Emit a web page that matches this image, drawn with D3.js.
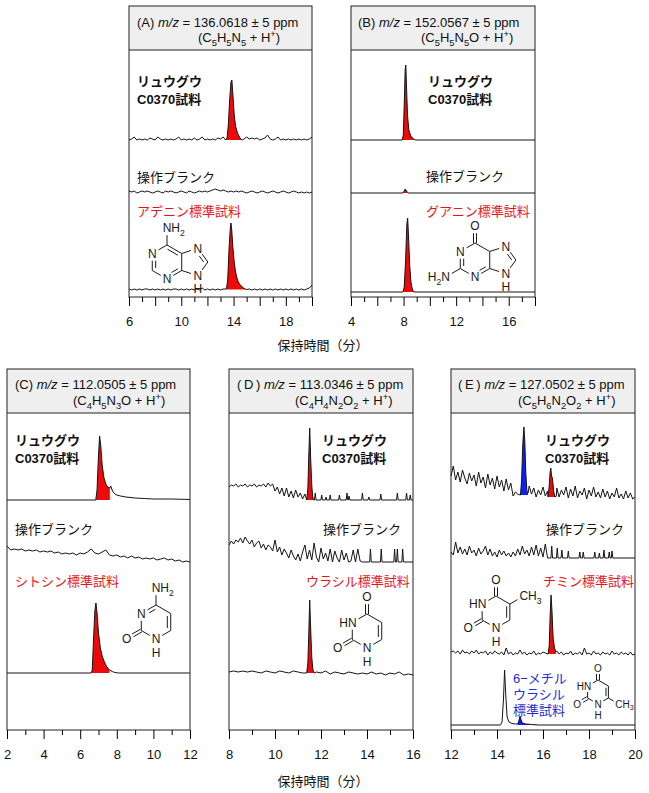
<!DOCTYPE html>
<html><head><meta charset="utf-8">
<script src="https://cdn.jsdelivr.net/npm/d3@7"></script>
<style>body{margin:0;background:#fff}svg{display:block}</style>
</head><body>
<svg id="c" width="649" height="793"></svg>
<script>
// ================= DATA =================
const panelIds = ['A','B','C','D','E'];
const panelTags = ['(A)','(B)','(C)','(\u2009D\u2009)','(\u2009E\u2009)'];
const mzValues = ['136.0618','152.0567','112.0505','113.0346','127.0502'];
const formulas = ['(C5H5N5 + H+)','(C5H5N5O + H+)','(C4H5N3O + H+)','(C4H4N2O2 + H+)','(C5H6N2O2 + H+)'];
const xDomains = [[6,20],[4,18],[2,12],[8,16],[12,20]];
const tickLabels = [[6,10,14,18],[4,8,12,16],[2,4,6,8,10,12],[8,10,12,14,16],[12,14,16,18,20]];
const sampleName = ['リュウグウ','C0370試料'];
const blankName = '操作ブランク';
const stdNames = ['アデニン標準試料','グアニン標準試料','シトシン標準試料','ウラシル標準試料','チミン標準試料'];
const mu6Name = ['6\u2212メチル','ウラシル','標準試料'];
const axisTitle = '保持時間（分）';

// Panel A (m/z 136.0618) – relative intensities, baseline noise on 0.2-min grid
const sampleA = {t0:6, dt:0.2, v:[0,1,3,0,1,0,1,0,2,1, 0,3,1,0,1,0,1,0,1,3, 0,1,0,1,0,2,0,1,3,0, 1,0,1,0,2,1,3,
  null,null,null,null,null,null,null,
  1,3,1,2,1,2,0,1,2,5, 1,0,1,3,0,1,0,1,0,1, 0,1,0,1,0,1,3]};
const peakSampleA = [[13.4,0],[13.5,2],[13.6,15],[13.7,40],[13.8,58],[13.87,60],[13.95,45],[14.05,25],[14.15,14],[14.3,7],[14.45,3],[14.55,1],[14.65,0]];
const blankA = {t0:6, dt:0.2, v:[2,1,2,0,1,2,1,2,1,0, 1,2,1,0,2,1,2,1,0,1, 2,1,0,2,1,0,1,2,1,2, 1,2,3,4,3,2,3,2,1,2, 1,2,1,2,1,0,1,2,1,0, 1,2,1,0,1,2,1,0,1,2, 1,0,1,2,1,0,1,0,1,0,1]};
const stdA = {t0:6, dt:0.2, v:[1,0,1,0,1,0,1,1,0,1, 0,1,0,1,0,1,0,1,1,0, 1,0,1,0,1,0,1,0,2,0, 1,0,1,0,1,0,1,
  null,null,null,null,null,null,null,null,null,
  1,0,1,0,1,0,1,0,1,0, 1,0,1,0,1,0,1,0,1,0, 1,0,1,2,5]};
const peakStdA = [[13.45,1],[13.55,10],[13.65,40],[13.75,62],[13.8,67],[13.86,60],[13.95,42],[14.05,28],[14.15,18],[14.3,10],[14.45,6],[14.6,4],[14.75,2],[14.9,1],[15.0,0.5]];

// Panel B (m/z 152.0567)
const flatB = {t0:4, dt:14, v:[0,0]};
const peakSampleB = [[7.9,0],[7.98,5],[8.05,35],[8.12,70],[8.17,75],[8.22,55],[8.3,25],[8.4,10],[8.55,4],[8.75,1],[8.9,0]];
const peakBlankB = [[7.95,0],[8.05,2],[8.13,4],[8.22,2],[8.35,0]];
const peakStdB = [[7.95,0],[8.05,5],[8.15,30],[8.25,68],[8.31,74],[8.38,55],[8.46,28],[8.56,10],[8.66,3],[8.78,0]];

// Panel C (m/z 112.0505)
const flatC = {t0:2, dt:10, v:[0,0]};
const peakSampleC = [[6.85,0],[6.92,10],[7.0,45],[7.06,64],[7.12,55],[7.2,35],[7.3,22],[7.4,16],[7.5,13],[7.62,12],[7.67,14],[7.72,11],[7.8,8],[7.9,6],[8.0,5],[8.2,4],[8.5,3],[9.0,2],[9.5,1.5],[10,1],[11,1],[12,0.5]];
const cutSampleC = 7.62;
const blankC = {t0:2, dt:0.2, v:[16,12,13,12,13,11,12,11,12,10, 11,10,11,9,10,8,9,8,9,7, 9,8,10,13,9,8,10,12,7,6, 7,5,6,4,6,4,5,3,4,3, 4,2,3,4,2,3,1,2,0,1, 0]};
const peakStdC = [[6.6,0],[6.66,3],[6.72,30],[6.8,62],[6.86,70],[6.92,60],[7.0,40],[7.1,25],[7.2,17],[7.3,12],[7.4,8],[7.5,5],[7.6,3],[7.75,1.5],[7.9,0.5],[8.1,0]];
const cutStdC = 7.6;

// Panel D (m/z 113.0346)
const sampleD = {t0:8, dt:0.1, v:[13,15,14,16,13,15,14,16,13,15, 14,16,13,15,14,16,13,17,14,16, 9,13,6,12,4,12,3,9,2,10, 3,7,1,6]};
const peakSampleD = [[11.38,0],[11.43,12],[11.47,45],[11.51,72],[11.55,42],[11.6,14],[11.64,3],[11.68,0]];
const spikesSampleD = [[11.75,7],[12.03,5],[12.22,3],[12.4,5],[12.8,5],[13.13,7],[13.22,4],[13.8,7],[14.08,3],[14.6,6],[15.32,7],[15.72,7],[15.88,5]];
const blankD = {t0:8, dt:0.1, v:[17,21,18,22,20,24,19,25,21,18, 22,15,19,21,14,18,12,17,15,11, 22,10,15,7,13,9,4,12,6,2, 8,1,10,17,3,12,2,19,5,0, 14,3,9,1,13,0,11,4,0,12, 2,9,0,1,12,0,13,1,0]};
const spikesBlankD = [[14.15,13],[14.62,13],[15.2,13],[15.32,13],[15.55,13]];
const endD = [[16,0]];
const stdD = {t0:8, dt:0.2, v:[3,4,3,4,3,4,3,2,4,3, 2,4,3,2,4,3,2, null,null, 3,2,4,1,3,2,1,3,2,1, 2,1,3,1,2,0,2,1,3,0, 1,0]};
const peakStdD = [[11.38,2],[11.43,12],[11.47,42],[11.51,75],[11.55,47],[11.6,17],[11.65,5],[11.7,2]];

// Panel E (m/z 127.0502)
const sampleE = {t0:12, dt:0.1, v:[24,34,20,28,18,30,22,16,27,19, 25,14,28,17,23,12,26,15,22,11, 24,13,20,9,21,10,17,4,8,6, 5, null,null,null, 14,6,12,3,10,5,13,4,9, null,null,null,
  12,3,10,5,13,2,11,4,14,2, 9,5,12,1,10,4,13,3,8,2, 11,3,9,1,7,3,12,2,6,1, 9,2,7,1,3]};
const peakSampleE15 = [[15.02,5],[15.07,20],[15.12,55],[15.17,73],[15.21,58],[15.25,28],[15.3,9],[15.35,7]];
const peakSampleE16 = [[16.22,3],[16.27,14],[16.31,28],[16.34,32],[16.37,24],[16.41,22],[16.46,9],[16.52,3],[16.58,4]];
const blankE = {t0:12, dt:0.1, v:[6,3,16,5,11,4,9,3,12,5, 8,2,10,4,7,12,3,9,2,6, 1,8,3,7,2,5,1,6,2,9, 3,12,4,8,2,11,3,13,2,10, 1,14,0]};
const spikesBlankE = [[16.38,12],[16.62,10],[16.82,8],[17.1,7],[17.6,6],[17.75,6],[18.25,6],[18.45,5],[18.65,8],[18.88,6],[19.0,7]];
const endE = [[20,0]];
const stdE = {t0:12, dt:0.1, v:[4,5,3,5,2,6,3,4,2,5, 3,6,2,4,3,5,1,4,2,5, 3,2,4,1,8,2,4,1,3,2, 6,2,4,1,3,2,5,1,3,2, 4,3,2, null,null,null,
  5,2,4,1,3,2,5,1,3,2, 4,1,8,2,3,1,5,2,3,1, 4,2,3,1,5,2,3,1,4,2, 3,1,4,1,2]};
const peakStdE = [[16.22,2],[16.27,10],[16.31,40],[16.35,61],[16.39,45],[16.44,18],[16.5,8],[16.56,4]];
const flatE = {t0:12, dt:8, v:[0,0]};
const peakMu6Main = [[14.15,0],[14.22,3],[14.28,25],[14.33,55],[14.38,30],[14.44,8],[14.52,3],[14.65,1.5],[14.8,1]];
const peakMu6Blue = [[14.9,1],[14.95,4],[15.0,9],[15.05,5],[15.1,2],[15.25,1],[15.5,0.5],[15.8,0]];

// ================= STYLE / LAYOUT =================
const RED = '#ee0a0a', RED_TXT = '#e8141c', BLUE = '#0a1eff', BLUE_TXT = '#2230d0';
const FONT = '"Liberation Sans", Arial, "Noto Sans CJK JP", sans-serif';
const SPW = 0.035;

const rowsByPanel = {
  A: [{grid: sampleA, peaks: [{pts: peakSampleA, fill: RED}]},
      {grid: blankA},
      {grid: stdA, peaks: [{pts: peakStdA, fill: RED}]}],
  B: [{grid: flatB, peaks: [{pts: peakSampleB, fill: RED}]},
      {grid: flatB, peaks: [{pts: peakBlankB, fill: RED}]},
      {grid: flatB, peaks: [{pts: peakStdB, fill: RED}]}],
  C: [{grid: flatC, peaks: [{pts: peakSampleC, fill: RED, cut: cutSampleC}]},
      {grid: blankC},
      {grid: flatC, peaks: [{pts: peakStdC, fill: RED, cut: cutStdC}]}],
  D: [{grid: sampleD, peaks: [{pts: peakSampleD, fill: RED}], spikes: spikesSampleD, extra: endD},
      {grid: blankD, spikes: spikesBlankD, extra: endD},
      {grid: stdD, peaks: [{pts: peakStdD, fill: RED}]}],
  E: [{grid: sampleE, peaks: [{pts: peakSampleE15, fill: BLUE}, {pts: peakSampleE16, fill: RED}]},
      {grid: blankE, spikes: spikesBlankE, extra: endE},
      {grid: stdE, peaks: [{pts: peakStdE, fill: RED}]},
      {grid: flatE, peaks: [{pts: peakMu6Main}, {pts: peakMu6Blue, fill: BLUE}]}]
};

const layout = {
  A: {x0:129, x1:312, y0:6, yh:50, y1:297, h1:[137,27], h2:[198,42], rows:[140,193,290], lab:[[137,86],[137,182],[137,216]], mol:[167,262,17,12]},
  B: {x0:351, x1:535, y0:6, yh:50, y1:297, h1:[358,27], h2:[421,42], rows:[140,193,292], lab:[[428,86],[426,181],[426,216]], mol:[475,260,17,12]},
  C: {x0:7, x1:190, y0:369, yh:413, y1:730, h1:[15,389], h2:[73,405], rows:[500,562,673], lab:[[15,445],[15,534],[15,586]], mol:[156,622,17,12]},
  D: {x0:229, x1:413, y0:369, yh:413, y1:730, h1:[237,389], h2:[295,405], rows:[500,562,675], lab:[[322,445],[323,534],[306,586]], mol:[367,631,17,12]},
  E: {x0:451, x1:635, y0:369, yh:413, y1:730, h1:[458,389], h2:[518,405], rows:[500,558,656,725], lab:[[545,445],[546,534],[543,586]], mol:[496,612,16,12]}
};
const mu6Layout = {lab:[513,683], dy:16, mol:[598,692,12,10]};

// ================= MOLECULES =================
const HC = [0,0], PC = [1.554,0];
const ringAtoms = () => [{p:[0,-1]},{p:[-0.866,-0.5]},{p:[-0.866,0.5]},{p:[0,1]},{p:[0.866,0.5]},{p:[0.866,-0.5]}];
function withLabels(atoms, labels){ labels.forEach((l,i)=>{ if(l) Object.assign(atoms[i], l); }); return atoms; }
const adenine = {atoms: withLabels(ringAtoms(), [null,{l:'N'},null,{l:'N'},null,null]).concat([
    {p:[1.817,-0.809], l:'N'}, {p:[2.405,0]}, {p:[1.817,0.809], l:'N', h:true}, {p:[0,-2], l:'NH2', a:'first'}]),
  bonds: [[0,1,1],[1,2,2,HC],[2,3,1],[3,4,2,HC],[4,5,1],[5,0,2,HC],[5,6,1],[6,7,2,PC],[7,8,1],[8,4,1],[0,9,1]]};
const guanine = {atoms: withLabels(ringAtoms(), [null,{l:'N'},null,{l:'N'},null,null]).concat([
    {p:[1.817,-0.809], l:'N'}, {p:[2.405,0]}, {p:[1.817,0.809], l:'N', h:true}, {p:[0,-2], l:'O'}, {p:[-1.732,1.0], l:'H2N', a:'last'}]),
  bonds: [[0,1,1],[1,2,2,HC],[2,3,1],[3,4,2,HC],[4,5,1],[5,0,1],[5,6,1],[6,7,2,PC],[7,8,1],[8,4,1],[0,9,2],[2,10,1]]};
const cytosine = {atoms: withLabels(ringAtoms(), [null,{l:'N'},null,{l:'N',h:true},null,null]).concat([
    {p:[0,-2], l:'NH2', a:'first'}, {p:[-1.732,1.0], l:'O'}]),
  bonds: [[0,1,2,HC],[1,2,1],[2,3,1],[3,4,1],[4,5,2,HC],[5,0,1],[0,6,1],[2,7,2]]};
const uracilAtoms = () => withLabels(ringAtoms(), [null,{l:'HN',a:'last'},null,{l:'N',h:true},null,null]).concat([
    {p:[0,-2], l:'O'}, {p:[-1.732,1.0], l:'O'}]);
const uracilBonds = [[0,1,1],[1,2,1],[2,3,1],[3,4,1],[4,5,2,HC],[5,0,1],[0,6,2],[2,7,2]];
const uracil = {atoms: uracilAtoms(), bonds: uracilBonds};
const thymine = {atoms: uracilAtoms().concat([{p:[1.732,-1.0], l:'CH3', a:'first'}]), bonds: uracilBonds.concat([[5,8,1]])};
const mu6 = {atoms: uracilAtoms().concat([{p:[1.732,1.0], l:'CH3', a:'first'}]), bonds: uracilBonds.concat([[4,8,1]])};
const molByPanel = {A: adenine, B: guanine, C: cytosine, D: uracil, E: thymine};

// ================= HELPERS =================
const svg = d3.select('#c');

function richText(sel, x, y, segs, fs, color) {
  const t = sel.append('text').attr('x', x).attr('y', y).attr('font-size', fs)
    .attr('font-family', FONT).attr('fill', color || '#111');
  let shift = 0;
  segs.forEach(s => {
    const target = s.sub ? fs*0.28 : s.sup ? -fs*0.38 : 0;
    const sp = t.append('tspan').text(s.t).attr('dy', target - shift);
    if (s.sub || s.sup) sp.attr('font-size', fs*0.72);
    if (s.it) sp.attr('font-style', 'italic');
    shift = target;
  });
  return t;
}
function parseFormula(str) {
  const segs = [];
  for (let i = 0; i < str.length; i++) {
    const c = str[i];
    if (/\d/.test(c)) segs.push({t:c, sub:true});
    else if (c === '+' && str[i+1] === ')') segs.push({t:c, sup:true});
    else if (segs.length && !segs[segs.length-1].sub && !segs[segs.length-1].sup) segs[segs.length-1].t += c;
    else segs.push({t:c});
  }
  return segs;
}
function buildPoints(tr) {
  let pts = [];
  if (tr.grid) tr.grid.v.forEach((v,i) => { if (v !== null) pts.push([tr.grid.t0 + i*tr.grid.dt, v]); });
  (tr.extra || []).forEach(p => pts.push(p));
  const ranges = [];
  (tr.peaks || []).forEach(pk => ranges.push([pk.pts[0][0], pk.pts[pk.pts.length-1][0]]));
  (tr.spikes || []).forEach(([t]) => ranges.push([t-SPW, t+SPW]));
  pts = pts.filter(([t]) => !ranges.some(([a,b]) => t >= a - 1e-9 && t <= b + 1e-9));
  (tr.peaks || []).forEach(pk => pk.pts.forEach(p => pts.push(p)));
  (tr.spikes || []).forEach(([t,h]) => pts.push([t-SPW,0],[t,h],[t+SPW,0]));
  pts.sort((a,b) => a[0]-b[0]);
  return pts;
}
function atomLabel(g, x, y, label, anchor, fs) {
  const segs = label.match(/[A-Z]|\d/g).map(c => /\d/.test(c) ? {t:c, sub:true} : {t:c});
  const hw = fs*0.36;
  let tx = x, ta = 'middle';
  if (anchor === 'first') { tx = x - hw; ta = 'start'; }
  if (anchor === 'last') { tx = x + hw; ta = 'end'; }
  richText(g, tx, y + fs*0.36, segs, fs, '#1a1a1a').attr('text-anchor', ta);
}
function drawMol(g, mol, cx, cy, s, fs) {
  const P = p => [cx + p[0]*s, cy + p[1]*s];
  const seg = (x1,y1,x2,y2) => g.append('line').attr('x1',x1).attr('y1',y1).attr('x2',x2).attr('y2',y2)
    .attr('stroke','#1a1a1a').attr('stroke-width',1);
  mol.bonds.forEach(([i,j,ord,rc]) => {
    const A = mol.atoms[i], B = mol.atoms[j];
    let [x1,y1] = P(A.p), [x2,y2] = P(B.p);
    const L = Math.hypot(x2-x1, y2-y1), ux = (x2-x1)/L, uy = (y2-y1)/L;
    const ta = A.l ? fs*0.6 : 0, tb = B.l ? fs*0.6 : 0;
    x1 += ux*ta; y1 += uy*ta; x2 -= ux*tb; y2 -= uy*tb;
    if (ord === 1) seg(x1,y1,x2,y2);
    else if (rc) {
      seg(x1,y1,x2,y2);
      const [rx,ry] = P(rc), mx = (x1+x2)/2, my = (y1+y2)/2;
      let nx = -uy, ny = ux;
      if ((rx-mx)*nx + (ry-my)*ny < 0) { nx = -nx; ny = -ny; }
      const d = s*0.2, sh = s*0.15;
      seg(x1+nx*d+ux*(A.l?0:sh), y1+ny*d+uy*(A.l?0:sh), x2+nx*d-ux*(B.l?0:sh), y2+ny*d-uy*(B.l?0:sh));
    } else {
      const nx = -uy, ny = ux, d = 1.5;
      seg(x1+nx*d,y1+ny*d,x2+nx*d,y2+ny*d); seg(x1-nx*d,y1-ny*d,x2-nx*d,y2-ny*d);
    }
  });
  mol.atoms.forEach(A => {
    if (!A.l) return;
    const [x,y] = P(A.p);
    atomLabel(g, x, y, A.l, A.a, fs);
    if (A.h) atomLabel(g, x, y + fs*1.1, 'H', null, fs);
  });
}

// ================= DRAW =================
panelIds.forEach((id, pi) => {
  const L = layout[id];
  const g = svg.append('g');
  const x = d3.scaleLinear().domain(xDomains[pi]).range([L.x0, L.x1]);

  // header
  g.append('rect').attr('x', L.x0).attr('y', L.y0).attr('width', L.x1-L.x0).attr('height', L.yh-L.y0).attr('fill', '#efefef');
  g.append('line').attr('x1', L.x0).attr('x2', L.x1).attr('y1', L.yh).attr('y2', L.yh).attr('stroke', '#222');
  richText(g, L.h1[0], L.h1[1], [{t: panelTags[pi] + ' '}, {t: 'm/z', it: true}, {t: ' = ' + mzValues[pi] + ' ± 5 ppm'}], 13);
  richText(g, L.h2[0], L.h2[1], parseFormula(formulas[pi]), 13);

  // traces
  rowsByPanel[id].forEach((row, ri) => {
    const base = L.rows[ri];
    const y = d3.scaleLinear().domain([0, 100]).range([base, base - 100]);
    (row.peaks || []).filter(pk => pk.fill).forEach(pk => {
      const fp = pk.pts.filter(p => pk.cut == null || p[0] <= pk.cut + 1e-9);
      const b = Math.min(fp[0][1], fp[fp.length-1][1]);
      g.append('path').datum(fp)
        .attr('d', d3.area().x(d => x(d[0])).y0(y(b)).y1(d => y(d[1])))
        .attr('fill', pk.fill);
    });
    g.append('path').datum(buildPoints(row))
      .attr('d', d3.line().x(d => x(d[0])).y(d => y(d[1])))
      .attr('fill', 'none').attr('stroke', '#141414').attr('stroke-width', 1).attr('stroke-linejoin', 'round');
  });

  // row labels
  const fsL = 13;
  g.append('text').attr('x', L.lab[0][0]).attr('y', L.lab[0][1]).attr('font-size', fsL).attr('font-weight', 'bold')
    .attr('font-family', FONT).attr('fill', '#111').text(sampleName[0]);
  g.append('text').attr('x', L.lab[0][0]).attr('y', L.lab[0][1] + 18).attr('font-size', fsL).attr('font-weight', 'bold')
    .attr('font-family', FONT).attr('fill', '#111').text(sampleName[1]);
  g.append('text').attr('x', L.lab[1][0]).attr('y', L.lab[1][1]).attr('font-size', fsL)
    .attr('font-family', FONT).attr('fill', '#111').text(blankName);
  g.append('text').attr('x', L.lab[2][0]).attr('y', L.lab[2][1]).attr('font-size', fsL)
    .attr('font-family', FONT).attr('fill', RED_TXT).text(stdNames[pi]);

  // structure
  const [mx, my, ms, mfs] = L.mol;
  drawMol(g, molByPanel[id], mx, my, ms, mfs);

  // panel border
  g.append('rect').attr('x', L.x0).attr('y', L.y0).attr('width', L.x1-L.x0).attr('height', L.y1-L.y0)
    .attr('fill', 'none').attr('stroke', '#222').attr('stroke-width', 1);

  // axes
  const [d0, d1] = xDomains[pi];
  const majors = d3.range(d0, d1 + 0.5, 1).filter(t => t % 2 === 0);
  const minors = d3.range(d0, d1 + 0.5, 1).filter(t => t % 2 !== 0);
  const labs = tickLabels[pi];
  g.append('g').attr('transform', `translate(0,${L.y1})`)
    .call(d3.axisBottom(x).tickValues(majors).tickSize(9).tickSizeOuter(0).tickPadding(11)
      .tickFormat(d => labs.includes(d) ? String(d) : ''))
    .call(a => a.select('.domain').remove())
    .call(a => a.selectAll('text').attr('font-size', 13).attr('font-family', FONT).attr('fill', '#111'));
  g.append('g').attr('transform', `translate(0,${L.y1})`)
    .call(d3.axisBottom(x).tickValues(minors).tickSize(5).tickSizeOuter(0).tickFormat(() => ''))
    .call(a => a.select('.domain').remove());
});

// 6-methyluracil label and structure in panel E
const gE = svg.append('g');
mu6Name.forEach((s, i) => {
  gE.append('text').attr('x', mu6Layout.lab[0]).attr('y', mu6Layout.lab[1] + i*mu6Layout.dy)
    .attr('font-size', 13).attr('font-family', FONT).attr('fill', BLUE_TXT).text(s);
});
drawMol(gE, mu6, mu6Layout.mol[0], mu6Layout.mol[1], mu6Layout.mol[2], mu6Layout.mol[3]);

// axis titles
[350, 786].forEach(yy => {
  svg.append('text').attr('x', 323).attr('y', yy).attr('text-anchor', 'middle').attr('font-size', 13)
    .attr('font-family', FONT).attr('fill', '#111').text(axisTitle);
});
</script>
</body></html>
